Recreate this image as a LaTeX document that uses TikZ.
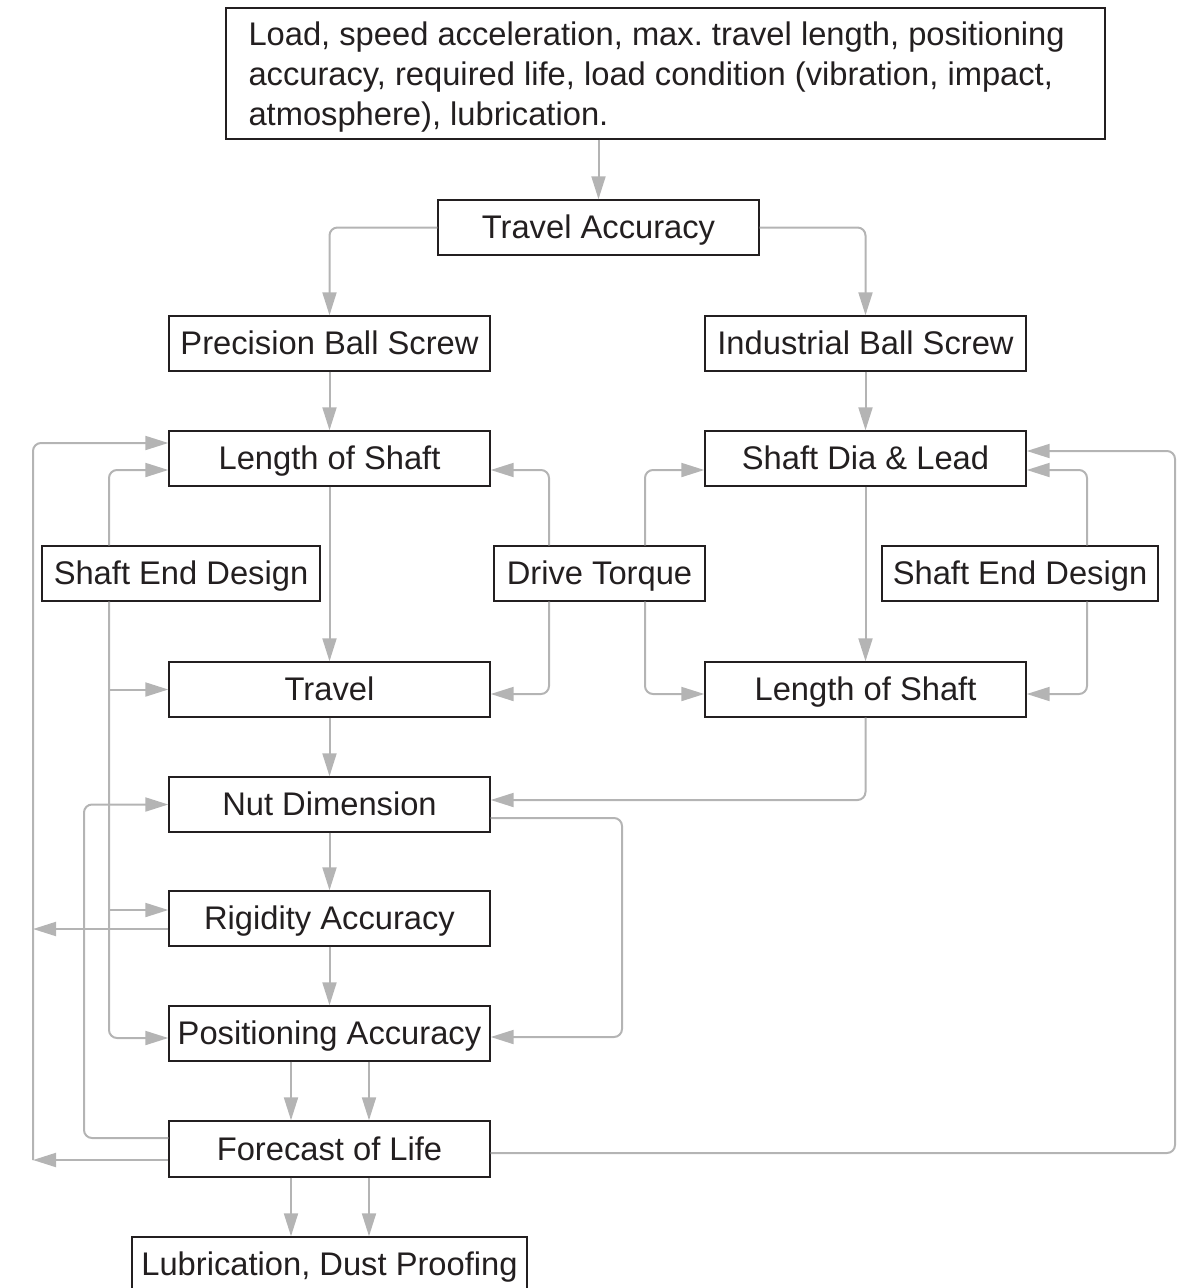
\documentclass[tikz,border=0pt]{standalone}
\usepackage{fontspec}
\setmainfont{Liberation Sans}
\usetikzlibrary{arrows.meta,calc}
\definecolor{ink}{HTML}{231F20}
\definecolor{conn}{HTML}{B4B4B4}
\frenchspacing
\begin{document}
\begin{tikzpicture}[x=1pt,y=-1pt,
  boxbase/.style={draw=ink, line width=1.4pt, fill=white, inner sep=0pt, text=ink,
    font=\fontsize{32.7}{40}\selectfont},
  box/.style={boxbase, minimum height=55pt, text height=23.5pt, text depth=1.5pt},
  wbox/.style={box, minimum width=321pt},
  cline/.style={draw=conn, line width=2pt, rounded corners=8pt},
  arr/.style={cline, -{Triangle[length=23pt,width=14pt]}},
]
\useasboundingbox (0,0) rectangle (1187,1288);

% nodes
\node[boxbase, minimum width=879pt, minimum height=131pt] (top) at (665.5,73.5) {};
\node[inner sep=0pt, text=ink, font=\fontsize{32.7}{40}\selectfont, align=left, anchor=west]
  (toptxt) at ([xshift=23pt,yshift=-4pt]top.west)
  {Load, speed acceleration, max. travel length, positioning\\accuracy, required life, load condition (vibration, impact,\\atmosphere), lubrication.};
\node[wbox] (travacc) at (598.5,227.5) {Travel Accuracy};
\node[wbox] (prec) at (329.5,343.5) {Precision Ball Screw};
\node[wbox] (ind) at (865.5,343.5) {Industrial Ball Screw};
\node[wbox] (lenL) at (329.5,458.5) {Length of Shaft};
\node[wbox] (dia) at (865.5,458.5) {Shaft Dia \& Lead};
\node[box, minimum width=278pt] (sedL) at (181,573.5) {Shaft End Design};
\node[box, minimum width=211pt] (drive) at (599.5,573.5) {Drive Torque};
\node[box, minimum width=276pt] (sedR) at (1020,573.5) {Shaft End Design};
\node[wbox] (travel) at (329.5,689.5) {Travel};
\node[wbox] (lenR) at (865.5,689.5) {Length of Shaft};
\node[wbox] (nut) at (329.5,804.5) {Nut Dimension};
\node[wbox] (rig) at (329.5,918.5) {Rigidity Accuracy};
\node[wbox] (pos) at (329.5,1033.5) {Positioning Accuracy};
\node[wbox, minimum height=56pt] (fore) at (329.5,1149) {Forecast of Life};
\node[box, minimum width=395pt] (lub) at (329.5,1264.5) {Lubrication, Dust Proofing};

% main vertical flow
\draw[arr] (top.south -| travacc.north) -- (travacc.north);
\draw[arr] (travacc.west) -| (prec.north);
\draw[arr] (travacc.east) -| (ind.north);
\draw[arr] (prec.south) -- (lenL.north);
\draw[arr] (ind.south) -- (dia.north);
\draw[arr] (lenL.south) -- (travel.north);
\draw[arr] (dia.south) -- (lenR.north);
\draw[arr] (travel.south) -- (nut.north);
\draw[arr] (nut.south) -- (rig.north);
\draw[arr] (rig.south) -- (pos.north);
\draw[arr] ([xshift=-38.5pt]pos.south) -- ([xshift=-38.5pt]fore.north);
\draw[arr] ([xshift=39.5pt]pos.south) -- ([xshift=39.5pt]fore.north);
\draw[arr] ([xshift=-38.5pt]fore.south) -- ([xshift=-38.5pt]lub.north);
\draw[arr] ([xshift=39.5pt]fore.south) -- ([xshift=39.5pt]lub.north);

% drive torque
\draw[arr] ([xshift=-50.5pt]drive.north) |- ([yshift=-11.5pt]lenL.east);
\draw[arr] ([xshift=-50.5pt]drive.south) |- ([yshift=-4.5pt]travel.east);
\draw[arr] ([xshift=45.5pt]drive.north) |- ([yshift=-11.5pt]dia.west);
\draw[arr] ([xshift=45.5pt]drive.south) |- ([yshift=-4.5pt]lenR.west);

% shaft end design right
\draw[arr] ([xshift=67pt]sedR.north) |- ([yshift=-11.5pt]dia.east);
\draw[arr] ([xshift=67pt]sedR.south) |- ([yshift=-4.5pt]lenR.east);

% shaft end design left
\coordinate (sl) at ([xshift=-72pt]sedL.south);
\coordinate (rigin) at ([yshift=8.5pt]rig.west);
\draw[arr] ([xshift=-72pt]sedL.north) |- ([yshift=-11.5pt]lenL.west);
\draw[arr] (sl) |- ([yshift=-4.5pt]pos.west);
\draw[arr] (sl |- travel.west) -- (travel.west);
\draw[arr] (sl |- rigin) -- (rigin);

% outer left loop
\coordinate (foreL) at ([yshift=-11pt]fore.west);
\coordinate (lc) at (33,1160);
\coordinate (rigout) at ([yshift=-10.5pt]rig.west);
\draw[arr] (foreL) -- (lc);
\draw[arr] (lc) |- ([yshift=15.5pt]lenL.west);
\draw[arr] (rigout) -- (rigout -| lc);

% forecast -> nut dimension
\coordinate (foreU) at ([yshift=11pt]fore.west);
\coordinate (nx) at (84,0);
\draw[arr] (foreU) -| (nx |- nut.west) -- (nut.west);

% length of shaft (R) -> nut dimension
\draw[arr] (lenR.south) |- ([yshift=4.5pt]nut.east);

% nut dimension -> positioning accuracy
\coordinate (nr) at ([yshift=-13.5pt]nut.east);
\coordinate (posR) at ([yshift=-3.5pt]pos.east);
\coordinate (rx) at (622,0);
\draw[arr] (nr) -| (rx |- posR) -- (posR);

% forecast -> shaft dia & lead
\coordinate (foreR) at ([yshift=-4pt]fore.east);
\coordinate (diaR) at ([yshift=7.5pt]dia.east);
\coordinate (rx2) at (1175,0);
\draw[arr] (foreR) -| (rx2 |- diaR) -- (diaR);

\end{tikzpicture}
\end{document}
